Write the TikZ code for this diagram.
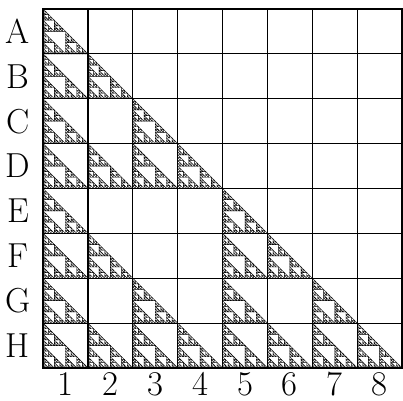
\documentclass[tikz,border=0pt]{standalone}
\usepackage{amsmath}

% Sierpinski triangle: corner x, corner y, size, depth
\newcommand\sierpcell[4]{%
    \ifnum#4=0
        \draw[tri] (#1,#2) -- ++(0,#3) -- ++(#3,-#3) -- cycle;
    \else
        \begingroup
        \pgfmathsetmacro\hs{#3/2}%
        \pgfmathsetmacro\xr{#1+\hs}%
        \pgfmathsetmacro\yt{#2+\hs}%
        \pgfmathtruncatemacro\dd{#4-1}%
        \edef\next{\noexpand\sierpcell{#1}{#2}{\hs}{\dd}%
            \noexpand\sierpcell{\xr}{#2}{\hs}{\dd}%
            \noexpand\sierpcell{#1}{\yt}{\hs}{\dd}}%
        \next
        \endgroup
    \fi}

\begin{document}
\begin{tikzpicture}[tri/.style={line width=0.28pt},
    every node/.style={font=\fontsize{22}{26}\selectfont, inner sep=0pt}]
    \useasboundingbox (-0.96,-0.72) rectangle (8.02,8.2);
    % Triangles in the cells
    \foreach \r/\cols in {1/{1},2/{1,2},3/{1,3},4/{1,2,3,4},5/{1,5},6/{1,2,5,6},7/{1,3,5,7},8/{1,2,3,4,5,6,7,8}} {
        \foreach \c in \cols {
            \pgfmathsetmacro\xa{\c-1}
            \pgfmathsetmacro\ya{8-\r}
            \sierpcell{\xa}{\ya}{1}{4}
        }
    }
    % Grid
    \foreach \k in {1,...,7} {
        \draw[line width=0.7pt] (\k,0) -- (\k,8);
        \draw[line width=0.7pt] (0,\k) -- (8,\k);
    }
    \draw[line width=1.2pt] (0,0) rectangle (8,8);
    % Row labels
    \foreach \r [count=\i] in {A,B,C,D,E,F,G,H}
        \node (row\r) at (-0.56,8.5-\i) {\r};
    % Column labels
    \foreach \c in {1,...,8}
        \node (col\c) at (\c-0.5,-0.36) {\c};
\end{tikzpicture}
\end{document}
